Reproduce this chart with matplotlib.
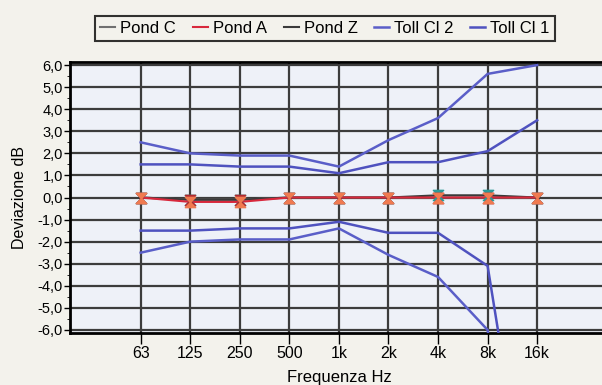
# Curva di risposta in frequenza con tolleranze di classe 1 e 2
import numpy as np
import matplotlib.pyplot as plt
from matplotlib.path import Path
from matplotlib.ticker import FixedLocator, FuncFormatter, MultipleLocator

plt.rcParams['font.family'] = ['Liberation Sans', 'DejaVu Sans']

# Frequenze (etichette) e valori
freq_labels = ['63', '125', '250', '500', '1k', '2k', '4k', '8k', '16k']

pond_c = [0.0, -0.1, -0.1, 0.0, 0.0, 0.0, 0.0, 0.0, 0.0]
pond_a = [0.0, -0.2, -0.2, 0.0, 0.0, 0.0, 0.0, 0.0, 0.0]
pond_z = [0.0, -0.1, -0.1, 0.0, 0.0, 0.0, 0.1, 0.1, 0.0]

toll_cl2_up = [2.5, 2.0, 1.9, 1.9, 1.4, 2.6, 3.6, 5.6, 6.0]
toll_cl2_lo = [-2.5, -2.0, -1.9, -1.9, -1.4, -2.6, -3.6, -6.0, -20.0]
toll_cl1_up = [1.5, 1.5, 1.4, 1.4, 1.1, 1.6, 1.6, 2.1, 3.5]
toll_cl1_lo = [-1.5, -1.5, -1.4, -1.4, -1.1, -1.6, -1.6, -3.1, -17.0]

x = np.arange(len(freq_labels))

# marker a clessidra
hourglass = Path([(-1, 1), (1, 1), (0, 0), (1, -1), (-1, -1), (0, 0), (-1, 1)],
                 [Path.MOVETO, Path.LINETO, Path.LINETO, Path.LINETO,
                  Path.LINETO, Path.LINETO, Path.CLOSEPOLY])

fig = plt.figure(figsize=(6.02, 3.85), dpi=100, facecolor='#f3f2ec')
ax = fig.add_axes([0.116, 0.135, 0.894, 0.704], facecolor='#eef1f8')

blue = '#5a5ec8'
ax.plot(x, toll_cl2_up, color=blue, lw=1.8, label='Toll Cl 2', zorder=3)
ax.plot(x, toll_cl2_lo, color=blue, lw=1.8, zorder=3)
ax.plot(x, toll_cl1_up, color='#4f52bf', lw=1.8, label='Toll Cl 1', zorder=3)
ax.plot(x, toll_cl1_lo, color='#4f52bf', lw=1.8, zorder=3)

ax.plot(x, pond_c, color='#707070', lw=1.5, label='Pond C', zorder=4)
ax.plot(x, pond_z, color='#3a3a3a', lw=1.5, label='Pond Z', zorder=4)
ax.plot(x, pond_a, color='#d8283c', lw=1.5, label='Pond A', zorder=5)

ax.scatter(x, pond_z, marker=hourglass, s=55, color='#2a9a98', zorder=6)
ax.scatter(x, pond_c, marker=hourglass, s=55, color='#b02a30', zorder=6)
ax.scatter(x, pond_a, marker=hourglass, s=55, color='#f07a50', zorder=7)

ax.set_xlim(-1.43, 9.43)
ax.set_ylim(-6.14, 6.14)
ax.set_xticks(x)
ax.set_xticklabels(freq_labels, fontsize=11.5)
ax.yaxis.set_major_locator(FixedLocator(np.arange(-6, 7, 1)))
ax.yaxis.set_minor_locator(MultipleLocator(0.5))
ax.yaxis.set_major_formatter(FuncFormatter(lambda v, p: ('%.1f' % v).replace('.', ',').replace('-0,0', '0,0')))
ax.tick_params(axis='y', labelsize=10.5, length=4, width=1, pad=1)
ax.tick_params(axis='y', which='minor', length=2)
ax.tick_params(axis='x', length=8, width=1, pad=1)

ax.grid(True, color='#3c3c3c', lw=1.6)
ax.set_axisbelow(True)
for s in ax.spines.values():
    s.set_linewidth(2)

ax.set_xlabel('Frequenza Hz', fontsize=12, labelpad=7)
ax.set_ylabel('Deviazione dB', fontsize=11.5, labelpad=8)

handles, labels = ax.get_legend_handles_labels()
order = ['Pond C', 'Pond A', 'Pond Z', 'Toll Cl 2', 'Toll Cl 1']
hmap = dict(zip(labels, handles))
leg = fig.legend([hmap[k] for k in order], order, loc='center', bbox_to_anchor=(0.54, 0.927),
                 ncol=5, fontsize=12, frameon=True, fancybox=False, handlelength=0.9,
                 handletextpad=0.3, columnspacing=1.0, borderpad=0.3, edgecolor='black')
leg.get_frame().set_linewidth(1.5)
leg.get_frame().set_facecolor('#f3f2ec')

plt.savefig('out.png', dpi=100, facecolor=fig.get_facecolor())
plt.close()
